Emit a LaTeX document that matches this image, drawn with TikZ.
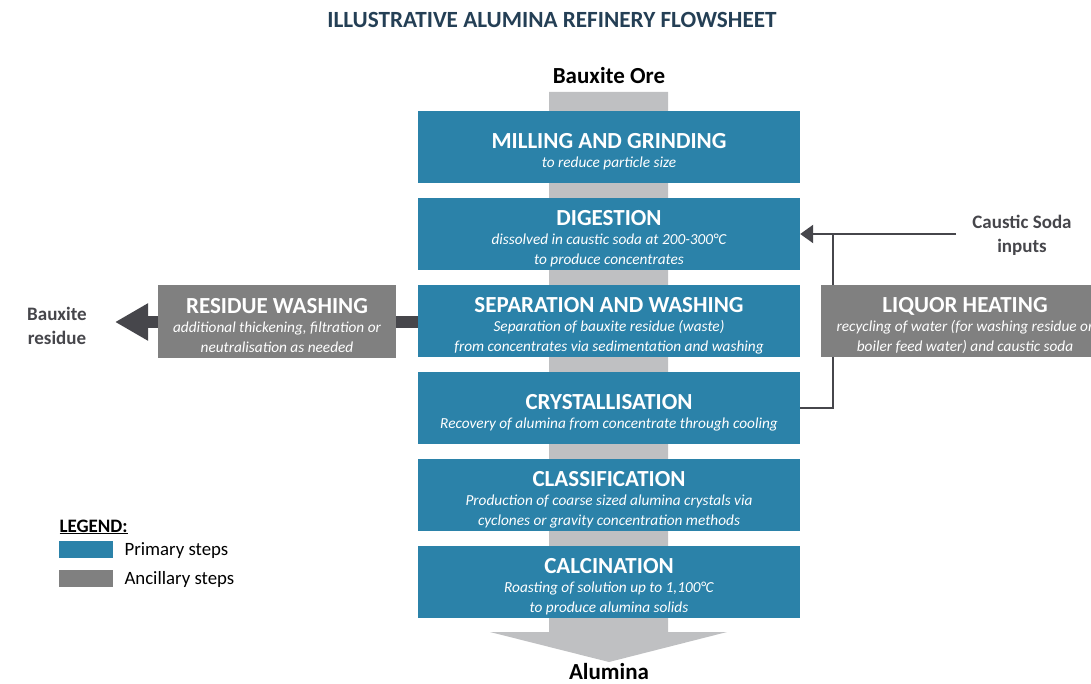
\documentclass[tikz,border=0pt]{standalone}
\usepackage{fontspec}
\setmainfont{Carlito}
\usetikzlibrary{arrows.meta}
\definecolor{primblue}{HTML}{2B82A9}
\definecolor{ancgrey}{HTML}{808080}
\definecolor{flowgrey}{HTML}{BFC0C2}
\definecolor{linkgrey}{HTML}{46464B}
\definecolor{titleblue}{HTML}{243F55}
\newcommand{\boxtitle}[1]{{\upshape\bfseries\fontsize{23}{22}\selectfont\rule{0pt}{24pt}#1}\\[-1pt]}
\tikzset{
  primary/.style={fill=primblue, text=white, minimum width=382pt, minimum height=72pt,
    inner sep=0pt, align=center, font=\fontsize{15.3}{20}\selectfont\itshape},
  ancillary/.style={primary, fill=ancgrey, minimum width=238pt},
  sidelabel/.style={text=linkgrey, align=center, font=\fontsize{19}{24}\selectfont\bfseries},
  endlabel/.style={inner sep=0pt, font=\fontsize{23}{24}\selectfont\bfseries},
  feed/.style={linkgrey, line width=2.5pt, -{Triangle[length=13pt,width=18pt]}},
  swatch/.style={minimum width=54pt, minimum height=17pt, inner sep=0pt},
}
\begin{document}
\begin{tikzpicture}[x=1pt,y=-1pt]
  \useasboundingbox (0,0) rectangle (1091,684);
  \clip (0,0) rectangle (1091,684);
  \node[text=titleblue, font=\fontsize{23.2}{24}\selectfont\bfseries] (title) at (552,20)
    {ILLUSTRATIVE ALUMINA REFINERY FLOWSHEET};
  % main flow band
  \fill[flowgrey] (549,92) -- (668,92) -- (668,632) -- (727,632) -- (609,662)
    -- (490,632) -- (549,632) -- cycle;
  \node[endlabel] (ore) at (609,76) {Bauxite Ore};
  \node[endlabel] (alumina) at (609,672) {Alumina};
  % primary steps
  \node[primary] (mill) at (609,147) {\boxtitle{MILLING AND GRINDING}
    to reduce particle size};
  \node[primary] (digest) at (609,234) {\boxtitle{DIGESTION}
    dissolved in caustic soda at 200-300\textdegree C\\to produce concentrates};
  \node[primary] (separate) at (609,321) {\boxtitle{SEPARATION AND WASHING}
    Separation of bauxite residue (waste)\\from concentrates via sedimentation and washing};
  \node[primary] (crystal) at (609,408) {\boxtitle{CRYSTALLISATION}
    Recovery of alumina from concentrate through cooling};
  \node[primary] (classify) at (609,495) {\boxtitle{CLASSIFICATION}
    Production of coarse sized alumina crystals via\\cyclones or gravity concentration methods};
  \node[primary] (calcine) at (609,582) {\boxtitle{CALCINATION}
    Roasting of solution up to 1,100\textdegree C\\to produce alumina solids};
  % residue side
  \node[ancillary] (residue) at (277,321.5) {\boxtitle{RESIDUE WASHING}
    additional thickening, filtration or\\neutralisation as needed};
  \coordinate (resout) at (115,322);
  \draw[linkgrey, line width=12pt] (separate.west |- 0,322) -- (residue.east |- 0,322);
  \draw[linkgrey, line width=12pt, -{Triangle[length=33pt,width=35pt]}]
    (residue.west |- 0,322) -- (resout);
  \node[sidelabel] (residuelabel) at (57,326) {Bauxite\\residue};
  % caustic soda loop
  \coordinate (sodain) at (956,234);
  \coordinate (loop) at (833,234);
  \draw[feed] (sodain) -- (digest.east);
  \draw[linkgrey, line width=2.5pt] (crystal.east) -| (loop);
  \node[ancillary, minimum width=288pt] (liquor) at (965,321) {\boxtitle{LIQUOR HEATING}
    recycling of water (for washing residue or\\boiler feed water) and caustic soda};
  \node[sidelabel] (sodalabel) at (1022,235) {Caustic Soda\\inputs};
  % legend
  \node[anchor=west, font=\fontsize{19}{20}\selectfont\bfseries] (legend) at (56,527)
    {\underline{LEGEND:}};
  \node[swatch, fill=primblue] (keyprim) at (86,549.5) {};
  \node[swatch, fill=ancgrey] (keyanc) at (86,578) {};
  \node[anchor=west, font=\fontsize{18.8}{20}\selectfont] (keyprimtext) at (121,551)
    {Primary steps};
  \node[anchor=west, font=\fontsize{18.8}{20}\selectfont] (keyanctext) at (121,579)
    {Ancillary steps};
\end{tikzpicture}
\end{document}
